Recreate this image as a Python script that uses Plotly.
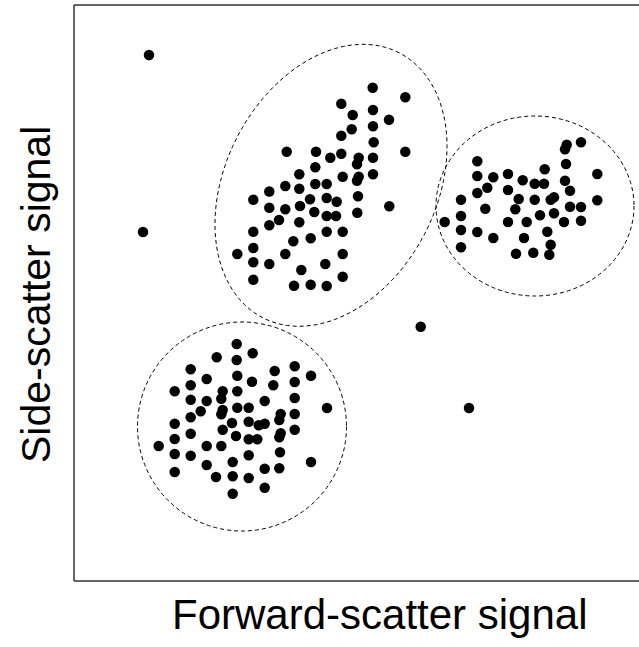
import numpy as np
import plotly.graph_objects as go

# Signal values (arbitrary units, origin at lower-left corner of the frame)
OFFSET_X, OFFSET_Y = 74.0, 581.0

lymph_px = [(236.7,344),(216.7,357.3),(252.7,353.3),(236.7,360),(190.7,369.3),(274.7,371),(294.7,366.3),(311,375.7),
            (206.7,379),(237.3,375.7),(252,381.7),(273.3,385.3),(294.7,382),(190.7,385.3),(174.7,391.3),(222.7,391.3),
            (237.3,391.3),(190.7,399.7),(206.7,401),(221.3,398.7),(264.7,401),(294.7,398),(327,408),(200.7,411.3),
            (222.7,410),(221.3,414.3),(237.3,407.7),(248.7,407.7),(280.7,414),(279.3,420),(294.7,414),(190.7,417.3),
            (174.7,423.7),(232,423),(248.7,421.7),(258.7,425.3),(264.7,423.7),(294.7,429.7),(222.7,429.7),(190.7,433.7),
            (236,436),(280.7,433.3),(279.3,437.3),(248.7,439.3),(257.3,439.3),(174.7,439),(158.7,446),(206.7,446),
            (221.3,446),(174.7,454),(190.7,455.7),(248.7,455.3),(280,452.3),(311,462),(206.7,465),(232.7,462),
            (264.7,468.7),(279.3,468.3),(174.7,472),(216,477),(232.7,476.3),(248.7,478),(264.7,487.7),(232.7,493.7)]

mono_px = [(372.7,87.7),(405.3,97.3),(341.3,103.7),(352.7,115),(373,110),(389,119.7),(351.7,129.3),(373,126.3),
           (341.3,135.7),(373.7,142.3),(286.7,151.7),(316,151.7),(405.3,151.7),(330.3,157.7),(341.3,153.7),(358.7,157.7),
           (357,164.3),(373,157.7),(315.3,167.3),(299.3,174.3),(342.7,176.7),(358.7,176.7),(357,180.7),(373,174.3),
           (315.3,184),(326.7,184),(285.3,186),(299.3,188.7),(269.3,191.5),
           (253.3,199.7),(310,199.3),(326.7,198),(336.7,201.7),(358,196.3),(389.3,206.3),(269.3,207.7),(285.3,209.3),
           (300,206),(314.3,212),(326.7,216),(336,216),(357.3,212.7),(279,220),(299.3,222.3),(269.3,225.3),
           (253.3,231.7),(326.7,231.7),(342.7,231.7),(293.3,241.3),(310.7,238.3),(253.3,248),(237.3,254),(285.3,254),
           (342.7,254),(253.3,262.3),(269.3,264),(301.3,270),(325.3,264),(342.7,276.7),(253.3,279.7),(294,285.7),
           (310.7,284.7),(326.7,286)]

gran_px = [(566.7,144.7),(565,149.3),(581,142.3),(477.3,161.3),(566,164),(544.7,169.3),(477.3,176),(493.3,177.3),
           (508,174),(522.7,180.3),(534.7,183.7),(544,183.7),(565,180.7),(597.3,174),(487.3,187.7),(477.3,193),
           (508,190),(570,190.7),(461,199.7),(518.7,199),(534.7,199.7),(550.7,199.7),(554,197.3),(597.3,200.3),
           (485.3,208.7),(515.3,209.3),(570,206.7),(581,207),(461,216),(540,215.3),(554,213.3),(444.7,222),
           (508,222),(526.7,222),(564,222),(581,220.7),(461,230),(477.3,232),(547.3,231.7),(493.3,238),
           (524,238),(550.7,244.7),(461,247.3),(516,253.7),(533.3,252.7),(549.3,254.7)]

outlier_px = [(149,55),(143,232),(420.7,326.7),(469,408)]

def to_signal(pts):
    fsc = [round(p[0] - OFFSET_X, 1) for p in pts]
    ssc = [round(OFFSET_Y - p[1], 1) for p in pts]
    return fsc, ssc

fsc_all, ssc_all = [], []
for grp in (lymph_px, mono_px, gran_px, outlier_px):
    fx, sy = to_signal(grp)
    fsc_all += fx
    ssc_all += sy

X_MAX, Y_MAX = 565.0, 576.0

fig = go.Figure()
fig.add_trace(go.Scatter(x=fsc_all, y=ssc_all, mode="markers",
                         marker=dict(size=10.5, color="black", line=dict(width=0)),
                         hoverinfo="skip", showlegend=False))

dash = "4px,3px"
shapes = []
# Lymphocyte gate (circle)
lc = (242 - OFFSET_X, OFFSET_Y - 426.5); lr = 104.5
shapes.append(dict(type="circle", xref="x", yref="y", x0=lc[0]-lr, x1=lc[0]+lr, y0=lc[1]-lr, y1=lc[1]+lr,
                   line=dict(color="black", width=1, dash=dash), layer="below"))
# Granulocyte gate
gc = (535 - OFFSET_X, OFFSET_Y - 206); grx, gry = 99, 90
shapes.append(dict(type="circle", xref="x", yref="y", x0=gc[0]-grx, x1=gc[0]+grx, y0=gc[1]-gry, y1=gc[1]+gry,
                   line=dict(color="black", width=1, dash=dash), layer="below"))
# Monocyte gate (tilted ellipse)
mc = (331 - OFFSET_X, OFFSET_Y - 185.3); ma, mb, mth = 149.0, 105.5, np.deg2rad(62.7)
t = np.linspace(0, 2*np.pi, 181)
ex = mc[0] + ma*np.cos(t)*np.cos(mth) - mb*np.sin(t)*np.sin(mth)
ey = mc[1] + ma*np.cos(t)*np.sin(mth) + mb*np.sin(t)*np.cos(mth)
path = "M " + " L ".join(f"{a:.2f},{b:.2f}" for a, b in zip(ex, ey)) + " Z"
shapes.append(dict(type="path", xref="x", yref="y", path=path,
                   line=dict(color="black", width=1, dash=dash), layer="below"))
# Frame (left, top, bottom)
fc = "#333333"
for (x0, y0, x1, y1) in [(0, 0, 0, 1), (0, 1, 1, 1), (0, 0, 1, 0)]:
    shapes.append(dict(type="line", xref="paper", yref="paper", x0=x0, y0=y0, x1=x1, y1=y1,
                       line=dict(color=fc, width=1.5), layer="above"))

fig.update_layout(
    width=639, height=647,
    margin=dict(l=74, r=0, t=5, b=66),
    paper_bgcolor="white", plot_bgcolor="white",
    shapes=shapes,
    xaxis=dict(range=[0, X_MAX], showgrid=False, zeroline=False, showticklabels=False, ticks="", fixedrange=True),
    yaxis=dict(range=[0, Y_MAX], showgrid=False, zeroline=False, showticklabels=False, ticks="", fixedrange=True),
    annotations=[
        dict(text="Forward-scatter signal", xref="paper", yref="paper",
             x=(379 - 74) / 565, y=-(614 - 581) / 576, xanchor="center", yanchor="middle",
             showarrow=False, font=dict(family="Liberation Sans, Arial", size=42, color="black")),
        dict(text="Side-scatter signal", xref="paper", yref="paper", textangle=-90,
             x=(36 - 74) / 565, y=(581 - 295) / 576, xanchor="center", yanchor="middle",
             showarrow=False, font=dict(family="Liberation Sans, Arial", size=41, color="black")),
    ],
)
fig.write_html("out.html", config={"displayModeBar": False},
               post_script="document.body.style.margin='0px';document.body.style.overflow='hidden';")
